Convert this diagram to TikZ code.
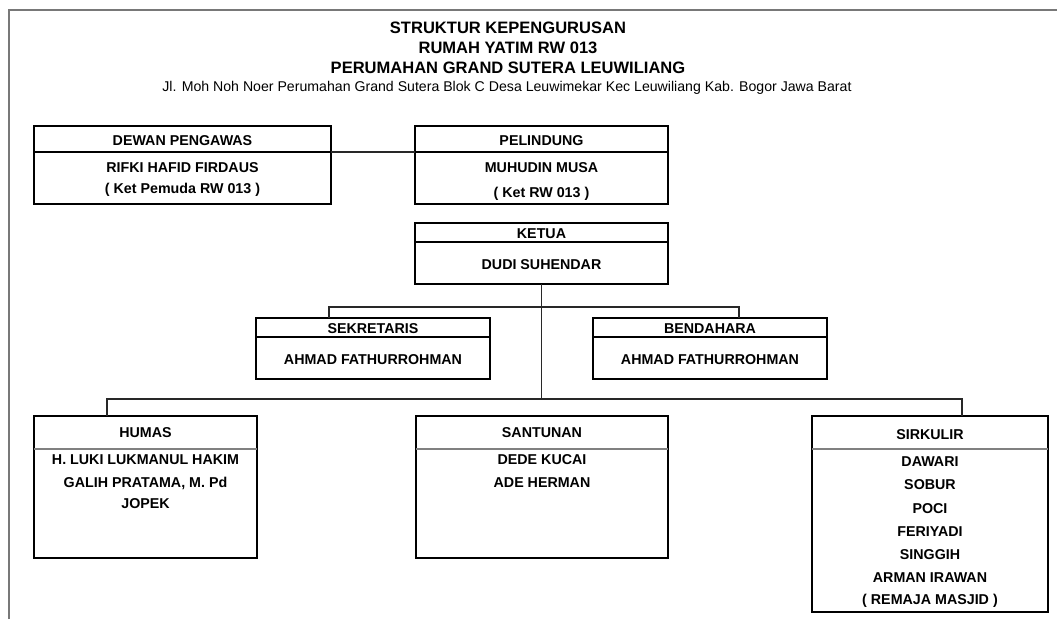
\documentclass[tikz,border=0pt]{standalone}
\usepackage{fontspec}
\setmainfont{Liberation Sans}

\begin{document}
\begin{tikzpicture}[x=0.75pt,y=0.75pt,yscale=-1,xscale=1,
  box/.style={draw=black, line width=1.6pt, anchor=north west, inner sep=0pt, outer sep=0pt},
  head/.style={font=\fontsize{10.7}{12}\selectfont\bfseries, inner sep=0.75pt, text height=7.7pt, text depth=0pt},
  title/.style={font=\fontsize{12.4}{14}\selectfont\bfseries, inner sep=0.75pt, text height=8.9pt, text depth=0pt},
  conn/.style={line width=0.8pt, color={rgb, 255:red, 40; green, 40; blue, 40 }},
  divider/.style={line width=1.5pt}
]
\useasboundingbox (0,0) rectangle (1057,619);

%Straight Lines [id:frame] 
\draw [line width=1.5pt, color={rgb, 255:red, 120; green, 120; blue, 120 }] (9,619) -- (9,10) -- (1057,10) ;

% Text Node
\node [title] (judul1) at (508,28) {STRUKTUR KEPENGURUSAN};
% Text Node
\node [title] (judul2) at (508,48) {RUMAH YATIM RW 013};
% Text Node
\node [title] (judul3) at (508,68) {PERUMAHAN GRAND SUTERA LEUWILIANG};
% Text Node
\node [font=\fontsize{10.6}{12}\selectfont, inner sep=0.75pt, text height=7.6pt, text depth=0pt] (alamat) at (507,86) {Jl. Moh Noh Noer Perumahan Grand Sutera Blok C Desa Leuwimekar Kec Leuwiliang Kab. Bogor Jawa Barat};

%Shape: Rectangle [id:dewan] 
\node [box, minimum width=297*0.75pt, minimum height=78*0.75pt] (dewan) at (34,126) {};
\draw [divider] (dewan.west |- 0,152) -- (dewan.east |- 0,152) ;
%Shape: Rectangle [id:pelindung] 
\node [box, minimum width=253*0.75pt, minimum height=78*0.75pt] (pelindung) at (415,126) {};
\draw [divider] (pelindung.west |- 0,152) -- (pelindung.east |- 0,152) ;
%Shape: Rectangle [id:ketua] 
\node [box, minimum width=253*0.75pt, minimum height=61*0.75pt] (ketua) at (415,223) {};
\draw [divider] (ketua.west |- 0,242) -- (ketua.east |- 0,242) ;
%Shape: Rectangle [id:sekretaris] 
\node [box, minimum width=234*0.75pt, minimum height=61*0.75pt] (sekretaris) at (256,318) {};
\draw [divider] (sekretaris.west |- 0,337) -- (sekretaris.east |- 0,337) ;
%Shape: Rectangle [id:bendahara] 
\node [box, minimum width=234*0.75pt, minimum height=61*0.75pt] (bendahara) at (593,318) {};
\draw [divider] (bendahara.west |- 0,337) -- (bendahara.east |- 0,337) ;
%Shape: Rectangle [id:humas] 
\node [box, minimum width=223*0.75pt, minimum height=142*0.75pt] (humas) at (34,416) {};
\draw [divider, color={rgb, 255:red, 128; green, 128; blue, 128 }] (humas.west |- 0,449) -- (humas.east |- 0,449) ;
%Shape: Rectangle [id:santunan] 
\node [box, minimum width=252*0.75pt, minimum height=142*0.75pt] (santunan) at (416,416) {};
\draw [divider, color={rgb, 255:red, 128; green, 128; blue, 128 }] (santunan.west |- 0,449) -- (santunan.east |- 0,449) ;
%Shape: Rectangle [id:sirkulir] 
\node [box, minimum width=236*0.75pt, minimum height=196*0.75pt] (sirkulir) at (812,416) {};
\draw [divider, color={rgb, 255:red, 128; green, 128; blue, 128 }] (sirkulir.west |- 0,449) -- (sirkulir.east |- 0,449) ;

%Straight Lines [id:dewan-pelindung] 
\draw [conn] (dewan.east |- 0,152) -- (pelindung.west |- 0,152) ;
%Straight Lines [id:ketua-bawah] 
\draw [conn] (ketua.south) -- (ketua.south |- 0,399) ;
%Straight Lines [id:sekretaris-bendahara] 
\draw [conn] (sekretaris.north -| 329,0) -- ++(0,-11) -| (bendahara.north -| 739,0) ;
%Straight Lines [id:humas-sirkulir] 
\draw [conn] (humas.north -| 107,0) -- ++(0,-17) -| (sirkulir.north -| 962,0) ;

% Text Node
\node [head] (dewan-t) at (dewan.north |- 0,140) {DEWAN PENGAWAS};
\node [head] (dewan-1) at (dewan.north |- 0,167) {RIFKI HAFID FIRDAUS};
\node [head] (dewan-2) at (dewan.north |- 0,188) {( Ket Pemuda RW 013 )};
% Text Node
\node [head] (pelindung-t) at (pelindung.north |- 0,140) {PELINDUNG};
\node [head] (pelindung-1) at (pelindung.north |- 0,167) {MUHUDIN MUSA};
\node [head] (pelindung-2) at (pelindung.north |- 0,192) {( Ket RW 013 )};
% Text Node
\node [head] (ketua-t) at (ketua.north |- 0,233) {KETUA};
\node [head] (ketua-1) at (ketua.north |- 0,264) {DUDI SUHENDAR};
% Text Node
\node [head] (sekretaris-t) at (sekretaris.north |- 0,328) {SEKRETARIS};
\node [head] (sekretaris-1) at (sekretaris.north |- 0,359) {AHMAD FATHURROHMAN};
% Text Node
\node [head] (bendahara-t) at (bendahara.north |- 0,328) {BENDAHARA};
\node [head] (bendahara-1) at (bendahara.north |- 0,359) {AHMAD FATHURROHMAN};
% Text Node
\node [head] (humas-t) at (humas.north |- 0,432) {HUMAS};
\node [head] (humas-1) at (humas.north |- 0,459) {H. LUKI LUKMANUL HAKIM};
\node [head] (humas-2) at (humas.north |- 0,482) {GALIH PRATAMA, M. Pd};
\node [head] (humas-3) at (humas.north |- 0,503) {JOPEK};
% Text Node
\node [head] (santunan-t) at (santunan.north |- 0,432) {SANTUNAN};
\node [head] (santunan-1) at (santunan.north |- 0,459) {DEDE KUCAI};
\node [head] (santunan-2) at (santunan.north |- 0,482) {ADE HERMAN};
% Text Node
\node [head] (sirkulir-t) at (sirkulir.north |- 0,434) {SIRKULIR};
\node [head] (sirkulir-1) at (sirkulir.north |- 0,461) {DAWARI};
\node [head] (sirkulir-2) at (sirkulir.north |- 0,484) {SOBUR};
\node [head] (sirkulir-3) at (sirkulir.north |- 0,508) {POCI};
\node [head] (sirkulir-4) at (sirkulir.north |- 0,531) {FERIYADI};
\node [head] (sirkulir-5) at (sirkulir.north |- 0,554) {SINGGIH};
\node [head] (sirkulir-6) at (sirkulir.north |- 0,577) {ARMAN IRAWAN};
\node [head] (sirkulir-7) at (sirkulir.north |- 0,599) {( REMAJA MASJID )};

\end{tikzpicture}
\end{document}
